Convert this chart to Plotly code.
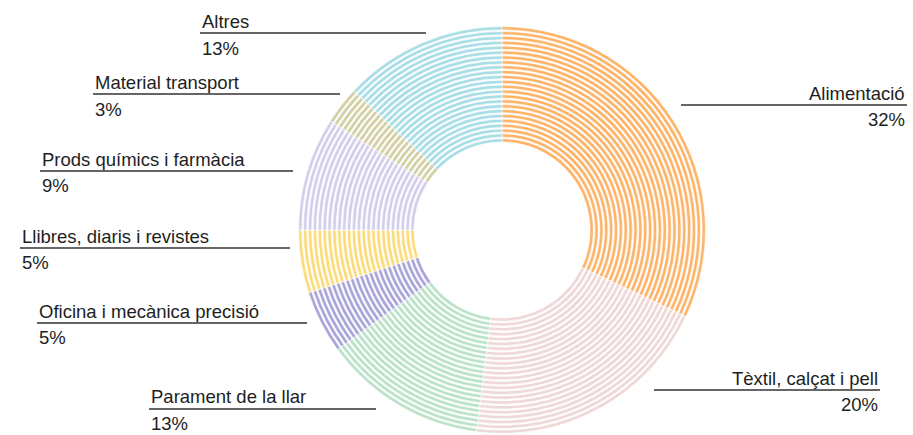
import plotly.graph_objects as go

# Sector shares (percent), clockwise from 12 o'clock
categories = [
    "Alimentació",
    "Tèxtil, calçat i pell",
    "Parament de la llar",
    "Oficina i mecànica precisió",
    "Llibres, diaris i revistes",
    "Prods químics i farmàcia",
    "Material transport",
    "Altres",
]
values = [32, 20, 13, 5, 5, 9, 3, 13]
colors = ["#FDB56C", "#EFD8D8", "#BCE3C9", "#ABA6D9", "#FCDC7A", "#D2CFEC", "#D4D0A6", "#A9DEE7"]

W, H = 913, 435
CX, CY, R_OUT, R_IN = 502, 230, 205, 88
N_RINGS = 24
pitch = (R_OUT - R_IN) / N_RINGS

fig = go.Figure()
start = 0.0
for cat, val, col in zip(categories, values, colors):
    span = val * 3.6
    mid = start + span / 2
    start += span
    fig.add_trace(go.Barpolar(
        theta=[mid] * N_RINGS,
        width=[span] * N_RINGS,
        base=[R_IN + k * pitch for k in range(N_RINGS)],
        r=[pitch * 0.68] * N_RINGS,
        marker=dict(color=col, line=dict(color="white", width=0.6)),
        name=cat,
        hoverinfo="name",
    ))

# Label layout: (text x, baseline y, line x0, line x1, line y, pct baseline, anchor)
label_pos = [
    (907, 100, 681, 907, 105, 126, "right"),
    (880, 385, 654, 880, 390, 411, "right"),
    (149, 403, 149, 376, 409, 430, "left"),
    (37, 318, 37, 307, 323, 344, "left"),
    (20, 243, 20, 290, 248, 269, "left"),
    (40, 166, 40, 293, 171, 192, "left"),
    (93, 89, 93, 340, 94, 116, "left"),
    (200, 28, 200, 426, 33, 55, "left"),
]

FS = 18.5
shift = 0.35 * FS  # baseline -> middle of text box
annotations, shapes = [], []
for cat, val, (tx, by, lx0, lx1, ly, pby, anc) in zip(categories, values, label_pos):
    for txt, b in ((cat, by), (f"{val}%", pby)):
        annotations.append(dict(
            text=txt, xref="paper", yref="paper",
            x=tx / W, y=1 - (b - shift) / H,
            xanchor=anc, yanchor="middle", showarrow=False,
            font=dict(family="Liberation Sans, Arial, sans-serif", size=FS, color="#1E1E1E"),
        ))
    shapes.append(dict(
        type="line", xref="paper", yref="paper",
        x0=lx0 / W, x1=lx1 / W, y0=1 - ly / H, y1=1 - ly / H,
        line=dict(color="#333333", width=1.3),
    ))

fig.update_layout(
    width=W, height=H,
    margin=dict(l=0, r=0, t=0, b=0),
    paper_bgcolor="white",
    showlegend=False,
    polar=dict(
        domain=dict(x=[(CX - R_OUT) / W, (CX + R_OUT) / W],
                    y=[1 - (CY + R_OUT) / H, 1 - (CY - R_OUT) / H]),
        bgcolor="white",
        barmode="overlay",
        angularaxis=dict(rotation=90, direction="clockwise", visible=False),
        radialaxis=dict(range=[0, R_OUT], visible=False),
    ),
    annotations=annotations,
    shapes=shapes,
)

fig.write_html("out.html")
